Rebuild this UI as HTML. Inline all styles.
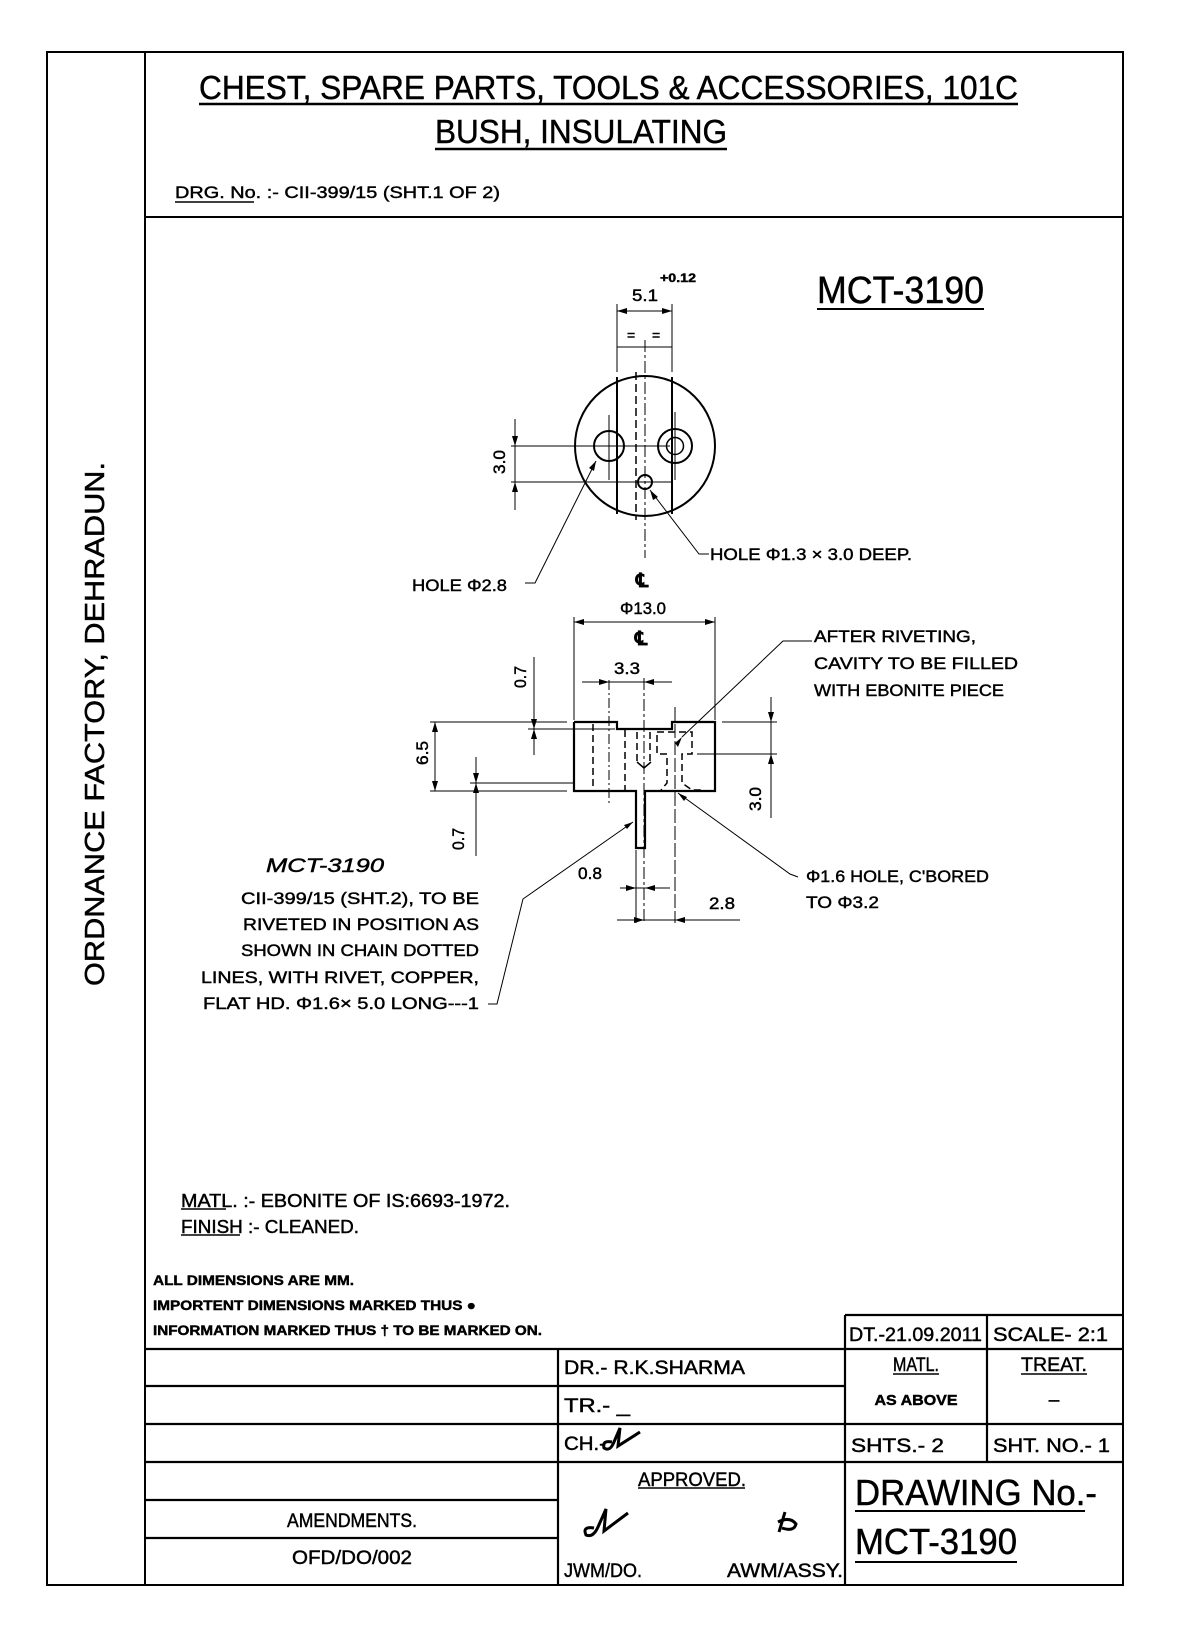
<!DOCTYPE html>
<html><head><meta charset="utf-8"><style>
html,body{margin:0;padding:0;background:#fff}
svg{display:block}
text{font-family:"Liberation Sans",sans-serif;fill:#000;stroke:#000;stroke-width:0.45}
</style></head><body>
<svg width="1184" height="1648" viewBox="0 0 1184 1648" xmlns="http://www.w3.org/2000/svg">
<g stroke="#000" fill="none">
<rect x="47" y="52" width="1076" height="1533" stroke-width="2"/>
<line x1="145" y1="52" x2="145" y2="1585" stroke-width="2"/>
<line x1="145" y1="217" x2="1123" y2="217" stroke-width="2"/>
<line x1="199" y1="104" x2="1018" y2="104" stroke-width="2.5"/>
<line x1="435" y1="149" x2="727" y2="149" stroke-width="2.5"/>
<line x1="175" y1="202" x2="254" y2="202" stroke-width="1.5"/>
<line x1="817" y1="309" x2="984" y2="309" stroke-width="2"/>

<circle cx="645" cy="446" r="70" stroke-width="2"/>
<circle cx="609" cy="446" r="15" stroke-width="2"/>
<circle cx="675" cy="446" r="17" stroke-width="2"/>
<circle cx="675" cy="446" r="8.5" stroke-width="1.5"/>
<circle cx="645" cy="482" r="7" stroke-width="2"/>
<line x1="617" y1="377" x2="617" y2="514" stroke-width="2"/>
<line x1="672" y1="377" x2="672" y2="514" stroke-width="2"/>
<line x1="636" y1="372" x2="636" y2="520" stroke-width="1.5" stroke-dasharray="8,4"/>
<line x1="645" y1="340" x2="645" y2="558" stroke-width="1" stroke-dasharray="12,3,3,3"/>
<line x1="609" y1="415" x2="609" y2="480" stroke-width="1"/>
<line x1="675" y1="412" x2="675" y2="480" stroke-width="1"/>
<line x1="617" y1="304" x2="617" y2="372" stroke-width="1"/>
<line x1="672" y1="304" x2="672" y2="372" stroke-width="1"/>
<line x1="617" y1="311" x2="672" y2="311" stroke-width="1"/>
<line x1="617" y1="347" x2="672" y2="347" stroke-width="1"/>
<line x1="511" y1="446" x2="670" y2="446" stroke-width="1"/>
<line x1="511" y1="482" x2="671" y2="482" stroke-width="1"/>
<line x1="515" y1="419" x2="515" y2="510" stroke-width="1"/>
<polyline points="525,583 535,583 596,461" stroke-width="1"/>
<polyline points="709,554 699,554 650,490" stroke-width="1"/>

<polyline points="574,722 617,722 617,729 672,729 672,722 715,722 715,791 645,791 645,848 636,848 636,791 574,791 574,722" stroke-width="2.2"/>
<g stroke-width="1.5" stroke-dasharray="7,4">
<line x1="593" y1="724" x2="593" y2="790"/>
<line x1="625" y1="730" x2="625" y2="790"/>
<line x1="637" y1="732" x2="637" y2="765"/>
<line x1="650" y1="732" x2="650" y2="765"/>
<polyline points="657,735 657,754 667,754 667,783 661,790"/>
<polyline points="657,732 692,732 692,754 682,754 682,783 692,790 704,790"/>
</g>
<polyline points="637,762 644,768 651,762" stroke-width="1.5"/>
<line x1="609" y1="680" x2="609" y2="805" stroke-width="1" stroke-dasharray="10,3,2,3"/>
<line x1="644" y1="678" x2="644" y2="923" stroke-width="1" stroke-dasharray="12,3,3,3"/>
<line x1="675" y1="707" x2="675" y2="923" stroke-width="1" stroke-dasharray="14,3"/>
<line x1="574" y1="617" x2="574" y2="720" stroke-width="1"/>
<line x1="715" y1="617" x2="715" y2="720" stroke-width="1"/>
<line x1="574" y1="622" x2="715" y2="622" stroke-width="1"/>
<line x1="582" y1="682" x2="672" y2="682" stroke-width="1"/>
<line x1="534" y1="657" x2="534" y2="755" stroke-width="1"/>
<line x1="528" y1="729" x2="615" y2="729" stroke-width="1"/>
<line x1="430" y1="722" x2="567" y2="722" stroke-width="1"/>
<line x1="430" y1="791" x2="567" y2="791" stroke-width="1"/>
<line x1="435" y1="722" x2="435" y2="791" stroke-width="1"/>
<line x1="476" y1="757" x2="476" y2="856" stroke-width="1"/>
<line x1="470" y1="783" x2="574" y2="783" stroke-width="1"/>
<line x1="722" y1="722" x2="777" y2="722" stroke-width="1"/>
<line x1="697" y1="754" x2="777" y2="754" stroke-width="1"/>
<line x1="771" y1="697" x2="771" y2="818" stroke-width="1"/>
<line x1="636" y1="850" x2="636" y2="923" stroke-width="1"/>
<line x1="620" y1="888" x2="670" y2="888" stroke-width="1"/>
<line x1="617" y1="920" x2="740" y2="920" stroke-width="1"/>
<polyline points="812,641 783,641 682,737" stroke-width="1"/>
<polyline points="798,877 790,874 678,793" stroke-width="1"/>
<polyline points="633,822 523,899 497,1004 488,1004" stroke-width="1"/>

<g stroke-width="2.2">
<line x1="845" y1="1315" x2="1123" y2="1315"/>
<line x1="145" y1="1349" x2="1123" y2="1349"/>
<line x1="145" y1="1386" x2="845" y2="1386"/>
<line x1="145" y1="1424" x2="1123" y2="1424"/>
<line x1="145" y1="1462" x2="1123" y2="1462"/>
<line x1="145" y1="1500" x2="558" y2="1500"/>
<line x1="145" y1="1538" x2="558" y2="1538"/>
<line x1="558" y1="1349" x2="558" y2="1585"/>
<line x1="845" y1="1315" x2="845" y2="1585"/>
<line x1="987" y1="1315" x2="987" y2="1462"/>
</g>
<line x1="893" y1="1374" x2="939" y2="1374" stroke-width="1.5"/>
<line x1="1021" y1="1374" x2="1087" y2="1374" stroke-width="1.5"/>
<line x1="638" y1="1488" x2="745" y2="1488" stroke-width="1.5"/>
<line x1="855" y1="1511" x2="1085" y2="1511" stroke-width="2"/>
<line x1="855" y1="1562" x2="1017" y2="1562" stroke-width="2"/>
<line x1="181" y1="1209" x2="226" y2="1209" stroke-width="1.5"/>
<line x1="181" y1="1235" x2="240" y2="1235" stroke-width="1.5"/>
<path d="M612,1442 q-10,-2 -8,6 q6,4 10,-6 l6,-14 l-2,18 l22,-14" stroke-width="3"/>
<path d="M594,1528 q-12,-2 -8,7 q7,3 12,-8 l8,-18 l-2,22 l24,-18" stroke-width="3"/>
<path d="M785,1512 l-6,20 M778,1522 q12,-6 18,2 q-2,8 -14,4" stroke-width="3"/>
</g>

<g fill="#000">
<path d="M617,311 l10,-3 v6z M672,311 l-10,-3 v6z"/>
<path d="M515,446 l-3,-10 h6z M515,482 l-3,10 h6z"/>
<path d="M574,622 l10,-3 v6z M715,622 l-10,-3 v6z"/>
<path d="M609,682 l-10,-3 v6z M644,682 l10,-3 v6z"/>
<path d="M534,729 l-3,-10 h6z M534,729 l-3,10 h6z"/>
<path d="M435,722 l-3,10 h6z M435,791 l-3,-10 h6z"/>
<path d="M476,783 l-3,-10 h6z M476,783 l-3,10 h6z"/>
<path d="M771,722 l-3,-10 h6z M771,754 l-3,10 h6z"/>
<path d="M636,888 l-10,-3 v6z M645,888 l10,-3 v6z"/>
<path d="M644,920 l-10,-3 v6z M675,920 l10,-3 v6z"/>
<path d="M596,461 l-2,10 l-5,-3z M650,490 l8,7 l-5,3z M682,737 l-4,10 l-3,-4z M678,793 l9,4 l-3,4z M633,822 l-9,3 l3,4z"/>
</g>

<text x="199" y="99" font-size="33" textLength="819" lengthAdjust="spacingAndGlyphs">CHEST, SPARE PARTS, TOOLS &amp; ACCESSORIES, 101C</text>
<text x="435" y="143" font-size="33" textLength="292" lengthAdjust="spacingAndGlyphs">BUSH, INSULATING</text>
<text x="175" y="198" font-size="17" textLength="325" lengthAdjust="spacingAndGlyphs">DRG. No. :- CII-399/15 (SHT.1 OF 2)</text>
<text transform="translate(104,986) rotate(-90)" font-size="28" textLength="524" lengthAdjust="spacingAndGlyphs">ORDNANCE FACTORY, DEHRADUN.</text>
<text x="817" y="303" font-size="38" textLength="167" lengthAdjust="spacingAndGlyphs">MCT-3190</text>

<text x="632" y="301" font-size="17" textLength="26" lengthAdjust="spacingAndGlyphs">5.1</text>
<text x="660" y="282" font-size="12" font-weight="bold" textLength="36" lengthAdjust="spacingAndGlyphs">+0.12</text>
<text x="627" y="340" font-size="14">=</text><text x="652" y="340" font-size="14">=</text>
<text transform="translate(505,474) rotate(-90)" font-size="17" textLength="24" lengthAdjust="spacingAndGlyphs">3.0</text>
<text x="412" y="591" font-size="17" textLength="95" lengthAdjust="spacingAndGlyphs">HOLE Φ2.8</text>
<text x="710" y="560" font-size="17" textLength="202" lengthAdjust="spacingAndGlyphs">HOLE Φ1.3 × 3.0 DEEP.</text>
<text x="636" y="587" font-size="19" font-weight="bold">℄</text>

<text x="620" y="614" font-size="17" textLength="46" lengthAdjust="spacingAndGlyphs">Φ13.0</text>
<text x="635" y="645" font-size="19" font-weight="bold">℄</text>
<text x="614" y="674" font-size="17" textLength="26" lengthAdjust="spacingAndGlyphs">3.3</text>
<text transform="translate(526,688) rotate(-90)" font-size="17" textLength="22" lengthAdjust="spacingAndGlyphs">0.7</text>
<text transform="translate(428,765) rotate(-90)" font-size="17" textLength="24" lengthAdjust="spacingAndGlyphs">6.5</text>
<text transform="translate(464,850) rotate(-90)" font-size="17" textLength="22" lengthAdjust="spacingAndGlyphs">0.7</text>
<text transform="translate(761,811) rotate(-90)" font-size="17" textLength="24" lengthAdjust="spacingAndGlyphs">3.0</text>
<text x="578" y="879" font-size="17" textLength="24" lengthAdjust="spacingAndGlyphs">0.8</text>
<text x="709" y="909" font-size="17" textLength="26" lengthAdjust="spacingAndGlyphs">2.8</text>

<g font-size="17">
<text x="814" y="642" textLength="162" lengthAdjust="spacingAndGlyphs">AFTER RIVETING,</text>
<text x="814" y="669" textLength="204" lengthAdjust="spacingAndGlyphs">CAVITY TO BE FILLED</text>
<text x="814" y="696" textLength="190" lengthAdjust="spacingAndGlyphs">WITH EBONITE PIECE</text>
<text x="806" y="882" textLength="183" lengthAdjust="spacingAndGlyphs">Φ1.6 HOLE, C'BORED</text>
<text x="806" y="908" textLength="73" lengthAdjust="spacingAndGlyphs">TO Φ3.2</text>
</g>
<text x="266" y="872" font-size="19" font-style="italic" textLength="118" lengthAdjust="spacingAndGlyphs">MCT-3190</text>
<g font-size="17" text-anchor="end">
<text x="479" y="904" textLength="238" lengthAdjust="spacingAndGlyphs">CII-399/15 (SHT.2), TO BE</text>
<text x="479" y="930" textLength="236" lengthAdjust="spacingAndGlyphs">RIVETED IN POSITION AS</text>
<text x="479" y="956" textLength="238" lengthAdjust="spacingAndGlyphs">SHOWN IN CHAIN DOTTED</text>
<text x="479" y="983" textLength="278" lengthAdjust="spacingAndGlyphs">LINES, WITH RIVET, COPPER,</text>
<text x="479" y="1009" textLength="276" lengthAdjust="spacingAndGlyphs">FLAT HD. Φ1.6× 5.0 LONG---1</text>
</g>

<text x="181" y="1207" font-size="18" textLength="329" lengthAdjust="spacingAndGlyphs">MATL. :- EBONITE OF IS:6693-1972.</text>
<text x="181" y="1233" font-size="18" textLength="178" lengthAdjust="spacingAndGlyphs">FINISH :- CLEANED.</text>
<g font-size="14" font-weight="bold">
<text x="153" y="1285" textLength="201" lengthAdjust="spacingAndGlyphs">ALL DIMENSIONS ARE MM.</text>
<text x="153" y="1310" textLength="323" lengthAdjust="spacingAndGlyphs">IMPORTENT DIMENSIONS MARKED THUS ●</text>
<text x="153" y="1335" textLength="389" lengthAdjust="spacingAndGlyphs">INFORMATION MARKED THUS † TO BE MARKED ON.</text>
</g>

<g font-size="19">
<text x="564" y="1374" textLength="181" lengthAdjust="spacingAndGlyphs">DR.-  R.K.SHARMA</text>
<text x="564" y="1412" textLength="66" lengthAdjust="spacingAndGlyphs">TR.-  _</text>
<text x="564" y="1450" textLength="42" lengthAdjust="spacingAndGlyphs">CH.-</text>
<text x="692" y="1486" text-anchor="middle" textLength="108" lengthAdjust="spacingAndGlyphs">APPROVED.</text>
<text x="564" y="1577" textLength="78" lengthAdjust="spacingAndGlyphs">JWM/DO.</text>
<text x="727" y="1577" textLength="116" lengthAdjust="spacingAndGlyphs">AWM/ASSY.</text>
<text x="352" y="1527" text-anchor="middle" textLength="130" lengthAdjust="spacingAndGlyphs">AMENDMENTS.</text>
<text x="352" y="1564" text-anchor="middle" textLength="120" lengthAdjust="spacingAndGlyphs">OFD/DO/002</text>
<text x="849" y="1341" textLength="133" lengthAdjust="spacingAndGlyphs">DT.-21.09.2011</text>
<text x="993" y="1341" textLength="115" lengthAdjust="spacingAndGlyphs">SCALE-  2:1</text>
<text x="916" y="1371" text-anchor="middle" textLength="46" lengthAdjust="spacingAndGlyphs">MATL.</text>
<text x="1054" y="1371" text-anchor="middle" textLength="66" lengthAdjust="spacingAndGlyphs">TREAT.</text>
<text x="1054" y="1406" text-anchor="middle">–</text>
<text x="851" y="1452" textLength="93" lengthAdjust="spacingAndGlyphs">SHTS.-  2</text>
<text x="993" y="1452" textLength="117" lengthAdjust="spacingAndGlyphs">SHT. NO.-  1</text>
</g>
<text x="916" y="1405" font-size="15" font-weight="bold" text-anchor="middle" textLength="83" lengthAdjust="spacingAndGlyphs">AS ABOVE</text>
<text x="855" y="1505" font-size="36" textLength="242" lengthAdjust="spacingAndGlyphs">DRAWING No.-</text>
<text x="855" y="1554" font-size="36" textLength="162" lengthAdjust="spacingAndGlyphs">MCT-3190</text>
</svg>
</body></html>
